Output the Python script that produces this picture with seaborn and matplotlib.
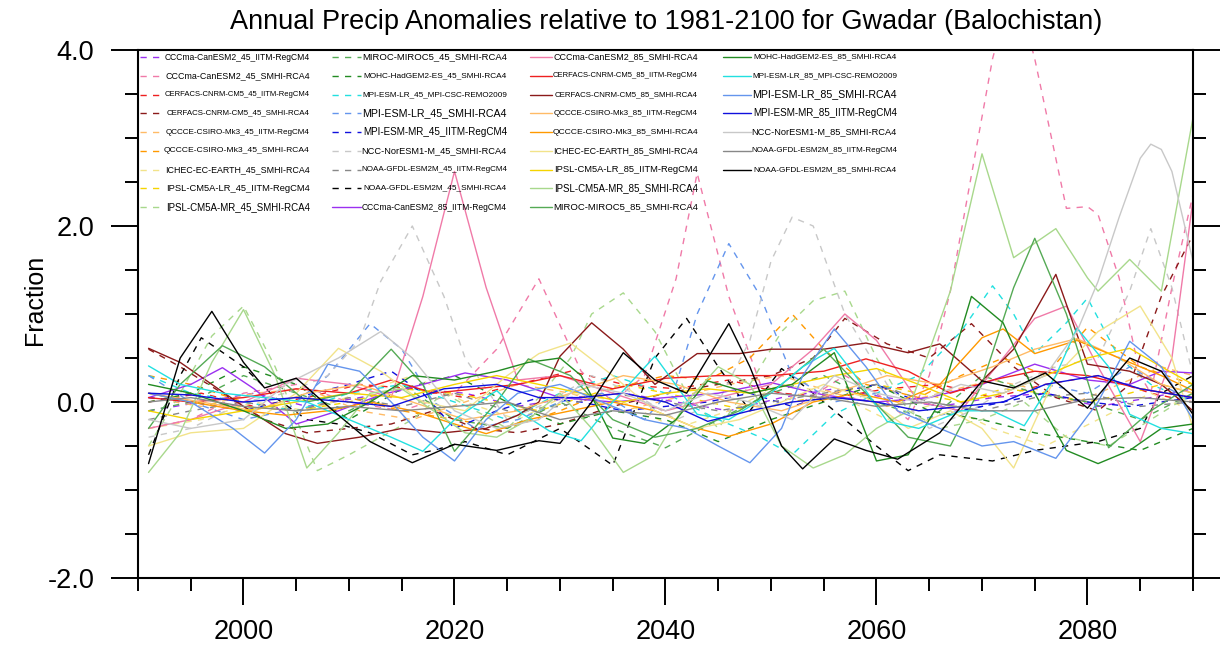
import numpy as np
import pandas as pd
import matplotlib
matplotlib.use("Agg")
import matplotlib.pyplot as plt
import seaborn as sns
from matplotlib.ticker import MultipleLocator, FixedLocator

# ---------------- data (anomaly as fraction) ----------------
# RCP4.5 runs (dashed)
cccma_iitm_45_x = [1991, 1996, 2001, 2006, 2011, 2016, 2021, 2026, 2031, 2036, 2041, 2046, 2051, 2056, 2061, 2066, 2071, 2076, 2081, 2086, 2090]
cccma_iitm_45_y = [-0.1, 0.0, 0.1, -0.05, 0.05, 0.15, 0.1, -0.05, 0.05, 0.1, 0.0, -0.1, 0.05, 0.15, 0.05, -0.05, 0.05, 0.1, -0.05, 0.05, 0.15]

cccma_smhi_45_x = [1991, 1995, 2000, 2005, 2010, 2015, 2020, 2024, 2028, 2032, 2035, 2038, 2041, 2043, 2046, 2049, 2053,
                   2057, 2060, 2063, 2065, 2067, 2071, 2073, 2075, 2078, 2080, 2081, 2083, 2085, 2086, 2088, 2090]
cccma_smhi_45_y = [-0.3, -0.2, 0.1, 0.2, 0.0, -0.1, 0.1, 0.6, 1.4, 0.35, 0.0, 0.3, 1.4, 2.6, 1.2, 0.2, 0.0,
                   0.3, 0.1, -0.2, 0.3, 1.26, 3.9, 4.8, 3.9, 2.2, 2.22, 2.13, 1.41, 0.3, 0.1, 1.3, 2.36]

cerfacs_iitm_45_x = [1991, 1996, 2001, 2006, 2011, 2016, 2021, 2026, 2031, 2036, 2041, 2046, 2051, 2056, 2061, 2066, 2071, 2076, 2081, 2086, 2090]
cerfacs_iitm_45_y = [0.0, 0.1, -0.05, 0.05, 0.2, 0.15, 0.05, 0.2, 0.35, 0.2, 0.15, 0.25, 0.1, 0.05, 0.15, 0.2, 0.05, 0.2, 0.3, 0.1, 0.0]

cerfacs_smhi_45_x = [1991, 1994, 1998, 2002, 2006, 2010, 2014, 2018, 2022, 2026, 2030, 2035, 2040, 2045, 2050, 2054, 2057,
                     2061, 2065, 2069, 2073, 2077, 2081, 2084, 2087, 2090]
cerfacs_smhi_45_y = [0.6, 0.4, 0.1, -0.2, -0.35, -0.3, -0.25, -0.1, -0.3, -0.35, -0.25, -0.05, 0.1, 0.2, 0.3, 0.5, 0.95,
                     0.66, 0.5, 0.89, 0.4, 0.05, -0.1, 0.2, 1.2, 1.9]

qccce_iitm_45_x = [1991, 1996, 2001, 2006, 2011, 2016, 2021, 2026, 2031, 2036, 2041, 2046, 2051, 2056, 2061, 2066, 2071, 2075, 2079, 2083, 2087, 2090]
qccce_iitm_45_y = [0.05, -0.05, 0.1, 0.15, -0.1, -0.2, 0.0, 0.2, 0.1, -0.1, 0.05, 0.2, 0.3, 0.1, -0.05, 0.1, 0.25, 0.15, 0.0, 0.2, 0.4, 0.3]

qccce_smhi_45_x = [1991, 1995, 2000, 2005, 2010, 2015, 2020, 2025, 2030, 2035, 2040, 2044, 2048, 2052, 2055, 2059, 2064, 2068, 2072, 2076, 2080, 2085, 2090]
qccce_smhi_45_y = [0.3, 0.2, 0.0, -0.1, 0.05, -0.1, -0.2, -0.3, -0.1, 0.15, 0.3, 0.25, 0.5, 1.0, 0.6, 0.2, 0.05, 0.3, 0.5, 0.3, 0.85, 0.4, 0.2]

ichec_smhi_45_x = [1991, 1996, 2001, 2006, 2011, 2016, 2021, 2026, 2031, 2036, 2041, 2046, 2051, 2056, 2061, 2066, 2071, 2076, 2081, 2086, 2090]
ichec_smhi_45_y = [-0.3, -0.2, 0.0, -0.1, 0.1, 0.3, 0.0, -0.2, 0.1, 0.0, -0.3, -0.1, 0.2, 0.1, -0.2, 0.0, -0.3, -0.5, -0.2, 0.1, -0.1]

ipsllr_iitm_45_x = [1991, 1995, 2000, 2005, 2010, 2015, 2020, 2024, 2028, 2032, 2036, 2040, 2044, 2048, 2052, 2056, 2060, 2064, 2068, 2072, 2076, 2080, 2084, 2087, 2090]
ipsllr_iitm_45_y = [0.1, 0.0, -0.05, -0.1, 0.0, 0.15, 0.1, 0.0, -0.1, 0.05, 0.2, 0.1, 0.0, -0.1, 0.0, 0.1, 0.2, 0.1, 0.0, 0.15, 0.1, 0.0, 0.1, 0.2, 0.1]

ipslmr_smhi_45_x = [1991, 1994, 1997, 2000, 2003, 2007, 2010, 2013, 2016, 2019, 2022, 2025, 2028, 2031, 2033, 2036, 2039,
                    2042, 2045, 2048, 2051, 2054, 2057, 2060, 2063, 2066, 2070, 2074, 2078, 2082, 2086, 2090]
ipslmr_smhi_45_y = [-0.5, 0.1, 0.75, 1.09, 0.4, -0.78, -0.6, -0.4, -0.2, 0.1, -0.1, -0.3, 0.05, 0.5, 1.0, 1.24, 0.8,
                    0.1, -0.3, 0.2, 0.8, 1.15, 1.26, 0.5, -0.1, -0.3, -0.2, 0.0, -0.4, -0.5, -0.2, 0.1]

miroc_smhi_45_x = [1991, 1995, 2000, 2005, 2010, 2015, 2020, 2025, 2030, 2035, 2040, 2045, 2050, 2055, 2060, 2065, 2070, 2075, 2080, 2085, 2090]
miroc_smhi_45_y = [-0.1, 0.0, 0.3, 0.1, -0.1, 0.2, -0.2, -0.3, 0.0, -0.3, -0.52, -0.2, 0.1, 0.3, 0.0, -0.2, 0.3, 0.1, 0.0, -0.2, 0.1]

mohc_smhi_45_x = [1991, 1995, 2000, 2005, 2010, 2015, 2020, 2025, 2030, 2035, 2040, 2045, 2050, 2055, 2060, 2065, 2070, 2075, 2080, 2085, 2090]
mohc_smhi_45_y = [0.0, 0.1, 0.4, 0.2, -0.2, 0.15, 0.3, 0.0, -0.25, -0.1, -0.2, -0.45, -0.2, 0.0, 0.2, -0.1, -0.2, -0.35, -0.45, -0.55, -0.3]

mpilr_remo_45_x = [1991, 1995, 2000, 2005, 2010, 2015, 2020, 2025, 2030, 2035, 2040, 2045, 2049, 2052, 2056, 2060, 2064,
                   2068, 2071, 2073, 2075, 2078, 2080, 2083, 2086, 2090]
mpilr_remo_45_y = [0.3, 0.1, 0.0, -0.1, 0.1, 0.2, 0.0, -0.2, 0.1, 0.3, 0.1, -0.2, -0.4, -0.6, -0.14, 0.1, 0.3,
                   0.8, 1.32, 1.0, 0.55, 0.9, 1.18, 0.5, 0.2, 0.0]

mpilr_smhi_45_x = [1991, 1995, 2000, 2004, 2008, 2012, 2015, 2018, 2022, 2026, 2030, 2034, 2038, 2041, 2043, 2046, 2049,
                   2052, 2056, 2060, 2064, 2068, 2072, 2076, 2080, 2084, 2087, 2090]
mpilr_smhi_45_y = [0.3, 0.0, -0.2, -0.1, 0.3, 0.89, 0.6, 0.0, -0.3, -0.2, 0.0, 0.1, -0.2, 0.2, 1.0, 1.8, 1.2,
                   0.3, 0.0, 0.1, -0.2, -0.1, 0.0, 0.2, 0.1, 0.4, 0.2, 0.0]

mpimr_iitm_45_x = [1991, 1995, 2000, 2005, 2010, 2014, 2017, 2020, 2024, 2028, 2032, 2036, 2040, 2044, 2048, 2052, 2056,
                   2060, 2064, 2068, 2072, 2076, 2080, 2084, 2090]
mpimr_iitm_45_y = [0.05, 0.0, -0.1, 0.05, 0.2, 0.35, 0.1, -0.3, -0.1, 0.05, 0.0, -0.1, -0.05, 0.0, 0.1, -0.05, 0.1,
                   0.2, 0.0, -0.1, 0.0, 0.1, 0.0, -0.05, 0.05]

ncc_smhi_45_x = [1991, 1995, 2000, 2004, 2008, 2011, 2013, 2016, 2019, 2021, 2025, 2029, 2033, 2037, 2041, 2045, 2048,
                 2050, 2052, 2054, 2057, 2061, 2065, 2069, 2073, 2077, 2081, 2084, 2086, 2088, 2090]
ncc_smhi_45_y = [-0.4, -0.3, 0.0, 0.1, 0.3, 0.7, 1.37, 2.0, 1.2, 0.5, -0.2, 0.0, 0.3, 0.1, -0.2, 0.0, 0.7,
                 1.6, 2.1, 2.0, 1.0, 0.2, -0.3, -0.1, 0.2, 0.4, 0.5, 1.26, 1.97, 1.3, 0.3]

noaa_iitm_45_x = [1991, 1995, 2000, 2005, 2010, 2015, 2020, 2025, 2030, 2035, 2040, 2045, 2050, 2055, 2060, 2065, 2070, 2075, 2080, 2085, 2090]
noaa_iitm_45_y = [-0.2, -0.1, 0.0, -0.1, 0.05, -0.05, 0.1, -0.1, -0.05, 0.1, 0.0, -0.1, 0.0, 0.1, 0.2, 0.0, -0.1, 0.05, 0.1, -0.05, 0.0]

noaa_smhi_45_x = [1991, 1994, 1996, 2000, 2003, 2006, 2009, 2012, 2016, 2018, 2021, 2025, 2030, 2033, 2035, 2039, 2042,
                  2045, 2048, 2051, 2054, 2057, 2060, 2063, 2066, 2071, 2075, 2078, 2081, 2085, 2087, 2090]
noaa_smhi_45_y = [-0.6, 0.3, 0.73, 0.4, 0.05, -0.2, -0.25, -0.35, -0.6, -0.55, -0.45, -0.6, -0.3, -0.55, -0.72, 0.5, 0.95,
                  0.4, -0.1, 0.38, 0.1, -0.2, -0.5, -0.78, -0.6, -0.67, -0.55, -0.5, -0.45, -0.3, 0.1, 0.3]

# RCP8.5 runs (solid)
cccma_iitm_85_x = [1991, 1995, 1998, 2001, 2005, 2009, 2013, 2017, 2021, 2025, 2030, 2035, 2040, 2045, 2050, 2055, 2060,
                   2065, 2070, 2075, 2080, 2084, 2087, 2090]
cccma_iitm_85_y = [0.05, 0.2, 0.39, 0.15, -0.25, -0.1, 0.08, 0.2, 0.33, 0.25, 0.05, 0.0, 0.05, 0.1, 0.22, 0.08, 0.0,
                   0.05, 0.2, 0.43, 0.25, 0.2, 0.35, 0.33]

cccma_smhi_85_x = [1991, 1995, 2000, 2005, 2010, 2014, 2017, 2020, 2023, 2026, 2030, 2035, 2040, 2045, 2050, 2054, 2057,
                   2060, 2064, 2068, 2072, 2075, 2078, 2081, 2085, 2088, 2090]
cccma_smhi_85_y = [-0.3, -0.2, 0.0, 0.27, 0.2, 0.05, 1.2, 2.62, 1.3, 0.25, 0.3, 0.1, -0.1, 0.05, 0.2, 0.6, 1.0,
                   0.7, 0.0, -0.1, 0.5, 0.95, 1.09, 0.4, -0.45, 0.5, 2.3]

cerfacs_iitm_85_x = [1991, 1995, 2000, 2005, 2010, 2014, 2018, 2022, 2026, 2030, 2035, 2040, 2045, 2050, 2055, 2059, 2063,
                     2067, 2071, 2075, 2080, 2085, 2090]
cerfacs_iitm_85_y = [0.05, 0.0, 0.05, 0.15, 0.1, 0.25, 0.1, 0.15, 0.2, 0.3, 0.15, 0.27, 0.3, 0.3, 0.35, 0.49, 0.35,
                     0.1, 0.25, 0.35, 0.3, 0.15, 0.05]

cerfacs_smhi_85_x = [1991, 1994, 1997, 2000, 2004, 2007, 2011, 2015, 2019, 2023, 2026, 2028, 2030, 2033, 2036, 2039, 2043,
                     2047, 2050, 2055, 2059, 2063, 2066, 2070, 2073, 2077, 2080, 2084, 2087, 2090]
cerfacs_smhi_85_y = [0.61, 0.45, 0.2, -0.05, -0.36, -0.47, -0.4, -0.3, -0.35, -0.3, -0.15, 0.0, 0.52, 0.9, 0.6, 0.2, 0.55,
                     0.55, 0.6, 0.6, 0.67, 0.56, 0.66, 0.24, 0.6, 1.45, 0.43, 0.35, 0.2, -0.1]

qccce_iitm_85_x = [1991, 1996, 2001, 2006, 2011, 2016, 2021, 2026, 2031, 2036, 2041, 2046, 2051, 2056, 2061, 2066, 2071, 2075, 2079, 2083, 2087, 2090]
qccce_iitm_85_y = [0.1, 0.0, -0.1, 0.1, 0.2, 0.0, -0.2, -0.1, 0.1, 0.3, 0.2, 0.0, -0.1, 0.1, 0.3, 0.2, 0.4, 0.6, 0.72, 0.5, 0.2, 0.1]

qccce_smhi_85_x = [1991, 1995, 2000, 2004, 2008, 2012, 2016, 2020, 2023, 2027, 2031, 2035, 2039, 2043, 2046, 2050, 2054,
                   2058, 2062, 2066, 2070, 2072, 2075, 2079, 2083, 2087, 2090]
qccce_smhi_85_y = [0.1, 0.0, -0.1, -0.15, -0.1, 0.0, -0.1, -0.25, -0.36, -0.2, -0.1, 0.0, -0.1, -0.3, -0.39, -0.25, 0.0,
                   0.1, 0.0, 0.2, 0.73, 0.83, 0.55, 0.7, 0.5, 0.3, 0.13]

ichec_smhi_85_x = [1991, 1995, 2000, 2005, 2009, 2013, 2017, 2021, 2025, 2028, 2031, 2035, 2039, 2043, 2047, 2051, 2055,
                   2059, 2063, 2067, 2070, 2073, 2077, 2081, 2085, 2088, 2090]
ichec_smhi_85_y = [-0.5, -0.35, -0.3, 0.1, 0.61, 0.35, 0.0, -0.1, 0.3, 0.55, 0.67, 0.3, -0.1, -0.3, -0.2, 0.0, 0.2,
                   0.05, -0.3, -0.1, -0.3, -0.75, 0.3, 0.8, 1.09, 0.5, -0.3]

ipsllr_iitm_85_x = [1991, 1995, 2000, 2005, 2010, 2015, 2020, 2024, 2028, 2032, 2036, 2040, 2044, 2048, 2052, 2056, 2060,
                    2064, 2068, 2072, 2076, 2080, 2084, 2087, 2090]
ipsllr_iitm_85_y = [-0.1, -0.2, -0.1, 0.0, 0.1, 0.05, 0.2, 0.3, 0.2, 0.1, 0.0, 0.1, 0.15, 0.1, 0.2, 0.3, 0.38,
                    0.2, 0.0, 0.1, 0.3, 0.5, 0.61, 0.4, 0.2]

ipslmr_smhi_85_x = [1991, 1994, 1997, 2000, 2003, 2006, 2009, 2012, 2015, 2018, 2021, 2024, 2027, 2030, 2033, 2036, 2039,
                    2042, 2045, 2048, 2051, 2054, 2057, 2060, 2063, 2067, 2070, 2073, 2077, 2080, 2081, 2084, 2087, 2090]
ipslmr_smhi_85_y = [-0.8, -0.35, 0.45, 1.05, 0.3, -0.75, -0.35, 0.1, 0.15, -0.1, -0.35, -0.4, -0.2, 0.1, -0.3, -0.8, -0.6,
                    0.0, 0.4, 0.2, -0.5, -0.75, -0.6, -0.3, -0.1, 1.26, 2.82, 1.64, 1.97, 1.41, 1.26, 1.62, 1.26, 3.23]

miroc_smhi_85_x = [1991, 1994, 1998, 2002, 2006, 2010, 2014, 2017, 2020, 2024, 2027, 2031, 2035, 2039, 2043, 2047, 2051,
                   2055, 2059, 2063, 2067, 2070, 2073, 2075, 2078, 2082, 2086, 2090]
miroc_smhi_85_y = [-0.3, 0.2, 0.64, 0.4, 0.0, 0.1, 0.6, 0.2, -0.56, 0.0, 0.49, 0.3, -0.2, -0.4, -0.3, -0.1, 0.2,
                   0.6, 0.1, -0.4, -0.5, 0.2, 1.3, 1.86, 1.0, -0.52, -0.1, 0.2]

mohc_smhi_85_x = [1991, 1995, 2000, 2004, 2008, 2012, 2016, 2020, 2024, 2027, 2030, 2032, 2035, 2038, 2041, 2044, 2048,
                  2052, 2056, 2060, 2063, 2066, 2069, 2072, 2075, 2078, 2081, 2084, 2087, 2090]
mohc_smhi_85_y = [0.2, 0.1, -0.1, -0.3, -0.25, 0.0, 0.3, 0.25, 0.35, 0.45, 0.5, 0.3, -0.41, -0.47, -0.2, 0.24, 0.1,
                  0.2, 0.56, -0.67, -0.6, 0.0, 1.2, 0.9, 0.1, -0.55, -0.7, -0.55, -0.3, -0.25]

mpilr_remo_85_x = [1991, 1994, 1998, 2002, 2006, 2010, 2014, 2017, 2020, 2024, 2026, 2029, 2032, 2035, 2039, 2043, 2046,
                   2050, 2053, 2056, 2058, 2061, 2064, 2068, 2071, 2074, 2077, 2079, 2082, 2084, 2087, 2090]
mpilr_remo_85_y = [0.41, 0.2, 0.1, 0.05, 0.0, -0.2, -0.4, -0.56, -0.2, 0.13, -0.1, -0.33, -0.44, 0.0, 0.52, -0.14, -0.2,
                   0.1, 0.4, 0.61, 0.3, -0.22, -0.3, -0.1, -0.1, -0.27, 0.3, 0.84, 0.4, -0.14, -0.3, -0.36]

mpilr_smhi_85_x = [1991, 1995, 1999, 2002, 2005, 2008, 2011, 2014, 2017, 2020, 2023, 2026, 2030, 2034, 2038, 2042, 2045,
                   2048, 2051, 2053, 2056, 2059, 2062, 2066, 2070, 2073, 2077, 2081, 2084, 2087, 2090]
mpilr_smhi_85_y = [0.1, 0.0, -0.3, -0.58, -0.2, 0.43, 0.35, 0.0, -0.4, -0.67, -0.2, 0.1, 0.2, 0.0, -0.2, -0.3, -0.5,
                   -0.69, -0.3, 0.3, 0.83, 0.4, -0.1, -0.3, -0.5, -0.45, -0.64, 0.0, 0.69, 0.4, -0.2]

mpimr_iitm_85_x = [1991, 1995, 2000, 2005, 2010, 2014, 2019, 2024, 2028, 2032, 2036, 2040, 2044, 2048, 2052, 2056, 2060,
                   2064, 2068, 2072, 2076, 2081, 2085, 2090]
mpimr_iitm_85_y = [0.1, 0.08, 0.0, 0.05, 0.0, -0.05, 0.15, 0.2, 0.05, 0.05, 0.1, 0.0, -0.22, -0.1, 0.0, 0.05, 0.0,
                   -0.1, -0.05, 0.0, 0.2, 0.3, 0.15, 0.05]

ncc_smhi_85_x = [1991, 1995, 2000, 2004, 2009, 2013, 2016, 2020, 2024, 2028, 2032, 2036, 2040, 2044, 2048, 2052, 2056,
                 2060, 2064, 2068, 2072, 2076, 2079, 2081, 2083, 2085, 2086, 2087, 2088, 2090]
ncc_smhi_85_y = [-0.2, -0.3, -0.2, 0.2, 0.5, 0.8, 0.5, -0.1, -0.3, -0.2, 0.2, 0.1, -0.1, 0.1, 0.0, -0.2, 0.3,
                 0.1, 0.0, 0.2, 0.1, 0.3, 0.8, 1.37, 2.1, 2.77, 2.93, 2.87, 2.62, 1.6]

noaa_iitm_85_x = [1991, 1995, 2000, 2005, 2010, 2015, 2020, 2025, 2030, 2035, 2040, 2045, 2050, 2055, 2060, 2065, 2070, 2075, 2080, 2085, 2090]
noaa_iitm_85_y = [0.0, 0.05, -0.05, -0.1, -0.05, -0.1, -0.05, 0.0, -0.2, -0.1, -0.15, 0.0, 0.1, 0.05, -0.05, 0.0, -0.1, -0.1, 0.03, 0.05, 0.0]

noaa_smhi_85_x = [1991, 1994, 1997, 2000, 2002, 2005, 2009, 2012, 2016, 2020, 2024, 2028, 2030, 2033, 2036, 2039, 2042,
                  2046, 2048, 2051, 2053, 2056, 2059, 2062, 2066, 2070, 2073, 2076, 2080, 2084, 2087, 2090]
noaa_smhi_85_y = [-0.7, 0.5, 1.03, 0.45, 0.16, 0.27, -0.15, -0.45, -0.69, -0.48, -0.55, -0.44, -0.47, 0.0, 0.56, 0.25, 0.1,
                  0.89, 0.4, -0.5, -0.76, -0.42, -0.55, -0.65, -0.35, 0.24, 0.16, 0.33, -0.07, 0.5, 0.35, -0.14]

# ---------------- runs: label, colour, scenario, data ----------------
runs = [
    ("CCCma-CanESM2_45_IITM-RegCM4", "#9b30f0", "45", cccma_iitm_45_x, cccma_iitm_45_y),
    ("CCCma-CanESM2_45_SMHI-RCA4", "#f07aa8", "45", cccma_smhi_45_x, cccma_smhi_45_y),
    ("CERFACS-CNRM-CM5_45_IITM-RegCM4", "#ee2020", "45", cerfacs_iitm_45_x, cerfacs_iitm_45_y),
    ("CERFACS-CNRM-CM5_45_SMHI-RCA4", "#8b1a1a", "45", cerfacs_smhi_45_x, cerfacs_smhi_45_y),
    ("QCCCE-CSIRO-Mk3_45_IITM-RegCM4", "#ffbb66", "45", qccce_iitm_45_x, qccce_iitm_45_y),
    ("QCCCE-CSIRO-Mk3_45_SMHI-RCA4", "#ff9900", "45", qccce_smhi_45_x, qccce_smhi_45_y),
    ("ICHEC-EC-EARTH_45_SMHI-RCA4", "#f2e38a", "45", ichec_smhi_45_x, ichec_smhi_45_y),
    ("IPSL-CM5A-LR_45_IITM-RegCM4", "#f5d400", "45", ipsllr_iitm_45_x, ipsllr_iitm_45_y),
    ("IPSL-CM5A-MR_45_SMHI-RCA4", "#a8d88c", "45", ipslmr_smhi_45_x, ipslmr_smhi_45_y),
    ("MIROC-MIROC5_45_SMHI-RCA4", "#55aa55", "45", miroc_smhi_45_x, miroc_smhi_45_y),
    ("MOHC-HadGEM2-ES_45_SMHI-RCA4", "#228b22", "45", mohc_smhi_45_x, mohc_smhi_45_y),
    ("MPI-ESM-LR_45_MPI-CSC-REMO2009", "#22e0e0", "45", mpilr_remo_45_x, mpilr_remo_45_y),
    ("MPI-ESM-LR_45_SMHI-RCA4", "#6495ed", "45", mpilr_smhi_45_x, mpilr_smhi_45_y),
    ("MPI-ESM-MR_45_IITM-RegCM4", "#1010dd", "45", mpimr_iitm_45_x, mpimr_iitm_45_y),
    ("NCC-NorESM1-M_45_SMHI-RCA4", "#c8c8c8", "45", ncc_smhi_45_x, ncc_smhi_45_y),
    ("NOAA-GFDL-ESM2M_45_IITM-RegCM4", "#888888", "45", noaa_iitm_45_x, noaa_iitm_45_y),
    ("NOAA-GFDL-ESM2M_45_SMHI-RCA4", "#000000", "45", noaa_smhi_45_x, noaa_smhi_45_y),
    ("CCCma-CanESM2_85_IITM-RegCM4", "#9b30f0", "85", cccma_iitm_85_x, cccma_iitm_85_y),
    ("CCCma-CanESM2_85_SMHI-RCA4", "#f07aa8", "85", cccma_smhi_85_x, cccma_smhi_85_y),
    ("CERFACS-CNRM-CM5_85_IITM-RegCM4", "#ee2020", "85", cerfacs_iitm_85_x, cerfacs_iitm_85_y),
    ("CERFACS-CNRM-CM5_85_SMHI-RCA4", "#8b1a1a", "85", cerfacs_smhi_85_x, cerfacs_smhi_85_y),
    ("QCCCE-CSIRO-Mk3_85_IITM-RegCM4", "#ffbb66", "85", qccce_iitm_85_x, qccce_iitm_85_y),
    ("QCCCE-CSIRO-Mk3_85_SMHI-RCA4", "#ff9900", "85", qccce_smhi_85_x, qccce_smhi_85_y),
    ("ICHEC-EC-EARTH_85_SMHI-RCA4", "#f2e38a", "85", ichec_smhi_85_x, ichec_smhi_85_y),
    ("IPSL-CM5A-LR_85_IITM-RegCM4", "#f5d400", "85", ipsllr_iitm_85_x, ipsllr_iitm_85_y),
    ("IPSL-CM5A-MR_85_SMHI-RCA4", "#a8d88c", "85", ipslmr_smhi_85_x, ipslmr_smhi_85_y),
    ("MIROC-MIROC5_85_SMHI-RCA4", "#55aa55", "85", miroc_smhi_85_x, miroc_smhi_85_y),
    ("MOHC-HadGEM2-ES_85_SMHI-RCA4", "#228b22", "85", mohc_smhi_85_x, mohc_smhi_85_y),
    ("MPI-ESM-LR_85_MPI-CSC-REMO2009", "#22e0e0", "85", mpilr_remo_85_x, mpilr_remo_85_y),
    ("MPI-ESM-LR_85_SMHI-RCA4", "#6495ed", "85", mpilr_smhi_85_x, mpilr_smhi_85_y),
    ("MPI-ESM-MR_85_IITM-RegCM4", "#1010dd", "85", mpimr_iitm_85_x, mpimr_iitm_85_y),
    ("NCC-NorESM1-M_85_SMHI-RCA4", "#c8c8c8", "85", ncc_smhi_85_x, ncc_smhi_85_y),
    ("NOAA-GFDL-ESM2M_85_IITM-RegCM4", "#888888", "85", noaa_iitm_85_x, noaa_iitm_85_y),
    ("NOAA-GFDL-ESM2M_85_SMHI-RCA4", "#000000", "85", noaa_smhi_85_x, noaa_smhi_85_y),
]

title = "Annual Precip Anomalies relative to 1981-2100 for Gwadar (Balochistan)"
ytick_vals = [-2, 0, 2, 4]
ytick_labels = ["-2.0", "0.0", "2.0", "4.0"]
xtick_vals = [2000, 2020, 2040, 2060, 2080]

# long table for seaborn
frames = []
for name, col, scen, xs, ys in runs:
    frames.append(pd.DataFrame({"run": name, "year": xs, "value": ys}))
data = pd.concat(frames, ignore_index=True)

palette = {r[0]: r[1] for r in runs}
dash_45 = (4.5, 4.5)
dashes = {r[0]: (dash_45 if r[2] == "45" else "") for r in runs}

# ---------------- plot ----------------
sns.set_style("ticks")
plt.rcParams["font.family"] = ["Liberation Sans", "DejaVu Sans"]
plt.rcParams["axes.unicode_minus"] = False
plt.rcParams["text.color"] = "black"
plt.rcParams["axes.edgecolor"] = "black"
plt.rcParams["xtick.color"] = "black"
plt.rcParams["ytick.color"] = "black"
plt.rcParams["xtick.labelcolor"] = "black"
plt.rcParams["ytick.labelcolor"] = "black"

fig = plt.figure(figsize=(12.2, 6.49), dpi=100)
ax = fig.add_axes([138/1220, 1 - 578/649, 1055/1220, 528/649])

sns.lineplot(data=data, x="year", y="value", hue="run", style="run",
             palette=palette, dashes=dashes, hue_order=[r[0] for r in runs],
             style_order=[r[0] for r in runs], estimator=None, sort=False,
             linewidth=1.0, legend=False, ax=ax)

ax.set_xlim(1990, 2090)
ax.set_ylim(-2, 4)
ax.xaxis.set_major_locator(FixedLocator(xtick_vals))
ax.xaxis.set_minor_locator(MultipleLocator(5))
ax.yaxis.set_major_locator(FixedLocator(ytick_vals))
ax.set_yticklabels(ytick_labels)
ax.yaxis.set_minor_locator(MultipleLocator(0.5))
ax.set_xlabel("")
ax.set_ylabel("")

for s in ax.spines.values():
    s.set_linewidth(1.5)
    s.set_color("black")
    s.set_visible(True)
ax.tick_params(which="both", direction="out", width=1.4, labelsize=19.5,
               colors="black", left=True, right=True, bottom=True, top=False)
ax.tick_params(which="major", length=19.5)
ax.tick_params(which="minor", length=9.5)
ax.tick_params(axis="y", pad=12)
ax.tick_params(axis="x", pad=10)

fig.text(666/1220, 1 - 22/649, title, ha="center", va="center", fontsize=19.5,
         color="black")
fig.text(35/1220, 1 - 300/649, "Fraction", ha="center", va="center",
         rotation=90, fontsize=18, color="black")

# ---------------- legend drawn inside the frame, NCL style ----------------
renderer = fig.canvas.get_renderer()
col_start = [140, 332, 530, 723]
col_end = [310, 507, 698, 897]
col_items = [runs[0:9], runs[9:18], runs[18:27], runs[27:34]]
text_w = 144.0
for c, items in enumerate(col_items):
    for r, (name, col, scen, xs, ys) in enumerate(items):
        ypx = 57 + 18.75 * r
        ya = 1 - (ypx - 50) / 528
        xe = (col_end[c] - 138) / 1055
        t = ax.text(xe, ya, name, ha="right", va="center", fontsize=7,
                    color="black", transform=ax.transAxes)
        w = t.get_window_extent(renderer).width
        t.set_fontsize(min(9.0, 7 * text_w / w))
        xs0 = (col_start[c] - 138) / 1055
        xs1 = (col_end[c] - text_w - 2 - 138) / 1055
        ln, = ax.plot([xs0, xs1], [ya, ya], color=col, lw=1.0,
                      transform=ax.transAxes, clip_on=False)
        if scen == "45":
            ln.set_dashes(dash_45)

fig.savefig("out.png", dpi=100)
